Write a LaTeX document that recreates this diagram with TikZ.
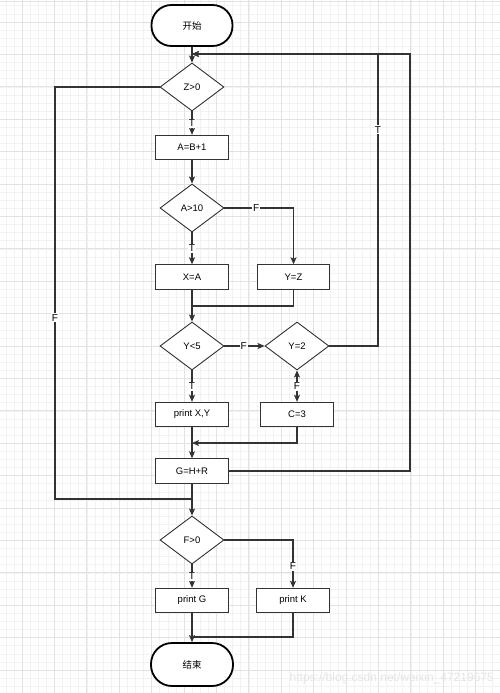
\documentclass[tikz,border=0pt]{standalone}
\usepackage{fontspec}
\setmainfont{Liberation Sans}
\newfontfamily\cjk{Noto Sans CJK SC}
\usetikzlibrary{shapes.geometric,arrows.meta}
\definecolor{gmaj}{HTML}{E2E2E2}
\definecolor{gmin}{HTML}{F2F2F2}
\definecolor{ln}{HTML}{333333}
\tikzset{
  proc/.style={draw=ln, line width=0.9pt, fill=white, minimum width=72.5pt, minimum height=24.5pt, inner sep=0pt, font=\fontsize{9.5}{11}\selectfont},
  decis/.style={draw=ln, line width=0.9pt, fill=white, diamond, aspect=1.333, minimum width=64pt, minimum height=48pt, inner sep=0pt, font=\fontsize{9.5}{11}\selectfont},
  term/.style={draw=black, line width=1.8pt, fill=white, rectangle, rounded corners=20pt, minimum width=81pt, minimum height=41pt, inner sep=0pt, font=\cjk\fontsize{9.5}{11}\selectfont},
  conn/.style={draw=ln, line width=1.1pt},
  arr/.style={conn, -{Stealth[length=7pt,width=6pt,inset=1.5pt]}},
  darr/.style={conn, {Stealth[length=7pt,width=6pt,inset=1.5pt]}-{Stealth[length=7pt,width=6pt,inset=1.5pt]}},
  lbl/.style={fill=white, inner sep=1pt, font=\fontsize{10}{11}\selectfont, text=black}
}
\begin{document}
\begin{tikzpicture}[x=1pt,y=-1pt]
\useasboundingbox (0,0) rectangle (500,693);
\fill[white] (0,0) rectangle (500,693);
% grid
\foreach \i in {-2,...,59} {\draw[gmin, line width=0.6pt] ({22+8.1*\i},0) -- ({22+8.1*\i},693);}
\foreach \i in {-2,...,83} {\draw[gmin, line width=0.6pt] (0,{22+8.1*\i}) -- (500,{22+8.1*\i});}
\foreach \i in {-1,...,15} {\draw[gmaj, line width=0.8pt] ({22+32.4*\i},0) -- ({22+32.4*\i},693);}
\foreach \i in {-1,...,21} {\draw[gmaj, line width=0.8pt] (0,{22+32.4*\i}) -- (500,{22+32.4*\i});}
\draw[gmaj, line width=1pt] (0,1.5) -- (500,1.5);

% nodes
\node[term] (start) at (192,25.5) {开始};
\node[decis] (z0) at (192,87) {Z>0};
\node[proc] (ab1) at (192,147.5) {A=B+1};
\node[decis] (a10) at (192,208) {A>10};
\node[proc] (xa) at (192,277) {X=A};
\node[proc] (yz) at (293.5,277) {Y=Z};
\node[decis] (y5) at (192,346) {Y<5};
\node[decis] (y2) at (297,346) {Y=2};
\node[proc] (pxy) at (192,414.5) {print X,Y};
\node[proc] (c3) at (297,414.5) {C=3};
\node[proc] (ghr) at (192,471) {G=H+R};
\node[decis] (f0) at (192,540) {F>0};
\node[proc] (pg) at (192,600.5) {print G};
\node[proc] (pk) at (293,600.5) {print K};
\node[term, minimum width=82pt, minimum height=43pt, rounded corners=21pt] (end) at (192,664.5) {结束};

% junction coordinates
\coordinate (topj) at (192,54);
\coordinate (j1) at (192,306);
\coordinate (j2) at (192,443);
\coordinate (j3) at (192,499);
\coordinate (j4) at (192,637);

% connectors
\draw[arr] (start) -- (z0);
\draw[arr] (y2.east) -- (378,346) -- node[lbl, pos=0.74]{T} (378,54) -- (topj);
\draw[arr] (ghr.east) -- (410,471) -- (410,54) -- (topj);
\draw[arr] (z0) -- node[lbl, pos=0.5]{T} (ab1);
\draw[conn] (z0.west) -- (55,87) -- node[lbl, pos=0.56]{F} (55,499) -- (j3);
\draw[arr] (ab1) -- (a10);
\draw[arr] (a10) -- node[lbl, pos=0.5]{T} (xa);
\draw[arr] (a10.east) -- node[lbl, pos=0.46]{F} (293.5,208) -- (yz.north);
\draw[arr] (xa) -- (y5);
\draw[conn] (yz.south) -- (293.5,306) -- (j1);
\draw[arr] (y5.east) -- node[lbl, pos=0.48]{F} (y2.west);
\draw[arr] (y5) -- node[lbl, pos=0.5]{T} (pxy);
\draw[darr] (y2.south) -- node[lbl, pos=0.5]{F} (c3.north);
\draw[arr] (pxy) -- (ghr);
\draw[arr] (c3.south) -- (297,443) -- (j2);
\draw[arr] (ghr) -- (f0);
\draw[arr] (f0) -- node[lbl, pos=0.5]{T} (pg);
\draw[arr] (f0.east) -- (293,540) -- node[lbl, pos=0.55]{F} (pk.north);
\draw[arr] (pg) -- (end);
\draw[conn] (pk.south) -- (293,637) -- (j4);

% watermark
\node[anchor=east, inner sep=0pt, text=black!10, font=\fontsize{12}{14}\selectfont] (wm) at (494,678) {https://blog.csdn.net/weixin\_47219675};
\end{tikzpicture}
\end{document}
